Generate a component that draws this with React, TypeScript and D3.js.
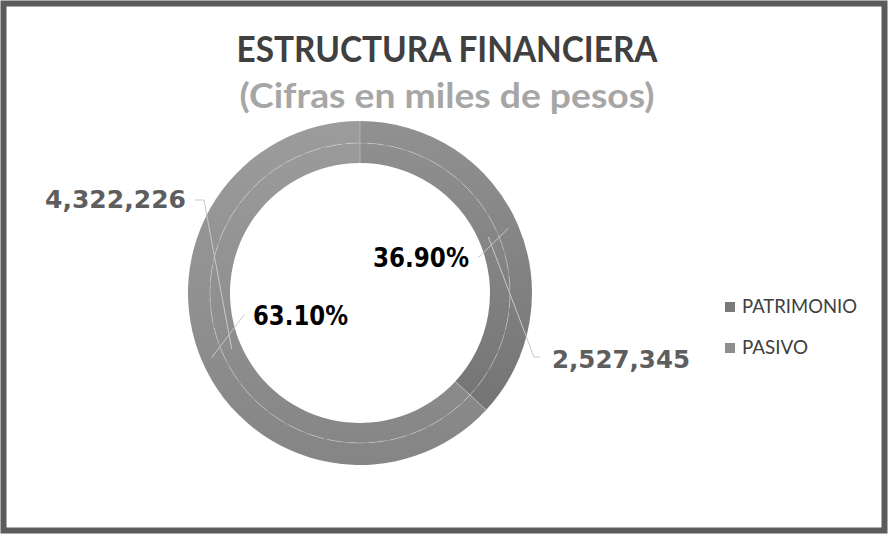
import React from "react";
import * as d3 from "d3";

const categories = ["PATRIMONIO", "PASIVO"];
const values = [2527345, 4322226];
const percents = [36.9, 63.1];
const title = "ESTRUCTURA FINANCIERA";
const subtitle = "(Cifras en miles de pesos)";

const W = 888;
const H = 534;
const cx = 360;
const cy = 293;
const rOuter = 172;
const rMid = 150;
const rInner = 130;

const gradTop = ["#919191", "#9c9c9c"];
const gradBot = ["#6f6f6f", "#858585"];
const legendColors = ["#7a7a7a", "#8e8e8e"];

// label layout (elbow point, text anchor position, text length)
const valueLayout = [
  { elbow: [534, 357], tx: 552, ty: 368, anchor: "start", len: 138, r: 140 },
  { elbow: [204, 200], tx: 186, ty: 208, anchor: "end", len: 141, r: 140 },
];
const pctLayout = [
  { elbow: [479, 257], tx: 469, ty: 267, anchor: "end", len: 96, r: 162 },
  { elbow: [244, 315], tx: 253, ty: 325, anchor: "start", len: 95, r: 162 },
];

export default function App() {
  const pie = d3.pie<number>().sort(null).value((d) => d);
  const outerArcs = pie(values);
  const innerArcs = pie(percents);
  const outerArc = d3.arc<d3.PieArcDatum<number>>().innerRadius(rMid).outerRadius(rOuter);
  const innerArc = d3.arc<d3.PieArcDatum<number>>().innerRadius(rInner).outerRadius(rMid);
  const fmt = d3.format(",");
  const pfmt = (v: number) => v.toFixed(2) + "%";

  const polar = (a: number, r: number) => [cx + r * Math.sin(a), cy - r * Math.cos(a)];

  return (
    <svg width={W} height={H} style={{ position: "absolute", left: 0, top: 0, background: "#fff" }}>
      <defs>
        {categories.map((c, i) => (
          <linearGradient key={c} id={"g" + i} x1={0} y1={-rOuter} x2={0} y2={rOuter} gradientUnits="userSpaceOnUse">
            <stop offset="0" stopColor={gradTop[i]} />
            <stop offset="1" stopColor={gradBot[i]} />
          </linearGradient>
        ))}
      </defs>
      <rect x={3.5} y={3.5} width={W - 7} height={H - 7} fill="#fff" stroke="#5b5b5b" strokeWidth={6} />
      <text x={447} y={62} textAnchor="middle" fontFamily="Lato, 'Open Sans', sans-serif" fontWeight={700}
        fontSize={36} fill="#404040" textLength={421} lengthAdjust="spacingAndGlyphs">{title}</text>
      <text x={447} y={108} textAnchor="middle" fontFamily="Lato, 'Open Sans', sans-serif" fontWeight={700}
        fontSize={34} fill="#a6a6a6" textLength={415} lengthAdjust="spacingAndGlyphs">{subtitle}</text>

      <g transform={`translate(${cx},${cy})`}>
        {innerArcs.map((a, i) => (
          <path key={"i" + i} d={innerArc(a) || ""} fill={`url(#g${i})`} />
        ))}
        {outerArcs.map((a, i) => (
          <path key={"o" + i} d={outerArc(a) || ""} fill={`url(#g${i})`} />
        ))}
        {outerArcs.map((a, i) => {
          const p0 = [rInner * Math.sin(a.startAngle), -rInner * Math.cos(a.startAngle)];
          const p1 = [rOuter * Math.sin(a.startAngle), -rOuter * Math.cos(a.startAngle)];
          return <line key={"s" + i} x1={p0[0]} y1={p0[1]} x2={p1[0]} y2={p1[1]} stroke="#ffffff" strokeOpacity={0.3} strokeWidth={1} />;
        })}
        <circle r={rMid} fill="none" stroke="#ffffff" strokeOpacity={0.28} strokeWidth={1} strokeDasharray="16 5" />
      </g>

      {outerArcs.map((a, i) => {
        const L = valueLayout[i];
        const mid = (a.startAngle + a.endAngle) / 2;
        const p = polar(mid, L.r);
        const hx = L.anchor === "start" ? L.tx - 12 : L.tx + 9;
        return (
          <g key={"vl" + i}>
            <polyline points={`${hx},${L.elbow[1]} ${L.elbow[0]},${L.elbow[1]} ${p[0]},${p[1]}`} fill="none" stroke="#c8c8c8" strokeWidth={1} />
            <text x={L.tx} y={L.ty} textAnchor={L.anchor} fontFamily="'DejaVu Sans', Verdana, sans-serif" fontSize={25}
              fontWeight={700} fill="#5e5e5e" textLength={L.len} lengthAdjust="spacingAndGlyphs">{fmt(values[i])}</text>
          </g>
        );
      })}
      {innerArcs.map((a, i) => {
        const L = pctLayout[i];
        const mid = (a.startAngle + a.endAngle) / 2;
        const p = polar(mid, L.r);
        const hx = L.anchor === "start" ? L.tx - 8 : L.tx + 9;
        return (
          <g key={"pl" + i}>
            <polyline points={`${hx},${L.elbow[1]} ${L.elbow[0]},${L.elbow[1]} ${p[0]},${p[1]}`} fill="none" stroke="#c8c8c8" strokeWidth={1} />
            <text x={L.tx} y={L.ty} textAnchor={L.anchor} fontFamily="'DejaVu Sans', Verdana, sans-serif" fontSize={26}
              fontWeight={700} fill="#000" textLength={L.len} lengthAdjust="spacingAndGlyphs">{pfmt(percents[i])}</text>
          </g>
        );
      })}

      {categories.map((c, i) => (
        <g key={"lg" + i} transform={`translate(725,${302 + i * 41})`}>
          <rect x={0} y={0} width={10} height={10} fill={legendColors[i]} />
          <text x={17} y={11} fontFamily="Lato, 'Open Sans', sans-serif" fontSize={19} fill="#404040"
            textLength={c.length > 6 ? 115 : 66} lengthAdjust="spacingAndGlyphs">{c}</text>
        </g>
      ))}
    </svg>
  );
}
